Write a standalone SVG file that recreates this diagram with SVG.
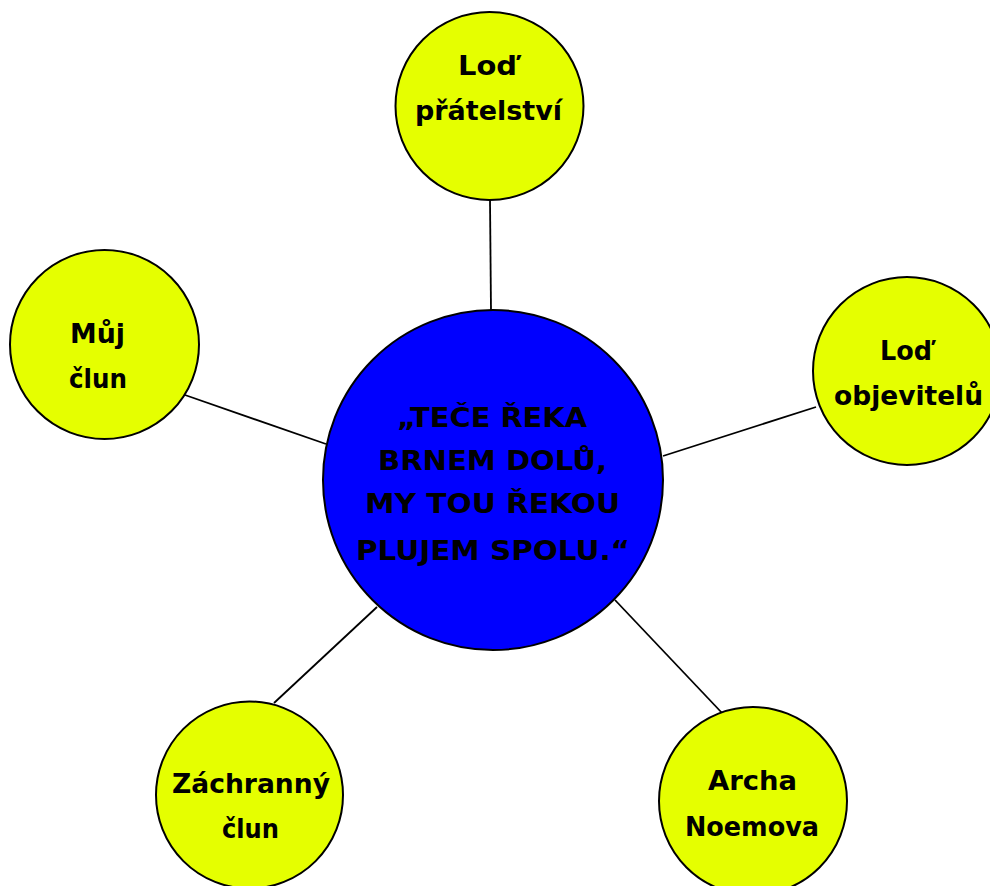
<svg xmlns="http://www.w3.org/2000/svg" width="990" height="886" viewBox="0 0 990 886">
<style>
.node{fill:#E5FF00;stroke:#000;stroke-width:2}
.hub{fill:#0000FF;stroke:#000;stroke-width:2}
.t{font-family:"DejaVu Sans","Liberation Sans",sans-serif;font-weight:bold;font-size:27px;fill:#000;text-anchor:middle}
.c line{stroke:#000;stroke-width:1.8}
</style>
<rect width="990" height="886" fill="#fff"/>
<g id="connectors" class="c">
<line x1="490" y1="200" x2="491" y2="311"/>
<line x1="185" y1="395" x2="326" y2="444"/>
<line x1="663" y1="456" x2="816" y2="407"/>
<line x1="274" y1="703" x2="377" y2="607"/>
<line x1="615" y1="600" x2="723" y2="714"/>
</g>
<g id="hub">
<circle class="hub" cx="493" cy="480" r="170"/>
<text class="t" x="492" y="427" textLength="190" lengthAdjust="spacingAndGlyphs">„TEČE ŘEKA</text>
<text class="t" x="492.5" y="470" textLength="229" lengthAdjust="spacingAndGlyphs">BRNEM DOLŮ,</text>
<text class="t" x="492.5" y="513" textLength="255" lengthAdjust="spacingAndGlyphs">MY TOU ŘEKOU</text>
<text class="t" x="493" y="560" textLength="274" lengthAdjust="spacingAndGlyphs">PLUJEM SPOLU.“</text>
</g>
<g id="n-top">
<circle class="node" cx="489.5" cy="106" r="94"/>
<text class="t" x="487.5" y="75" textLength="59" lengthAdjust="spacingAndGlyphs">Loď</text>
<text class="t" x="488.5" y="120" textLength="147" lengthAdjust="spacingAndGlyphs">přátelství</text>
</g>
<g id="n-left">
<circle class="node" cx="104.5" cy="344.5" r="94.5"/>
<text class="t" x="97.5" y="343" textLength="55" lengthAdjust="spacingAndGlyphs">Můj</text>
<text class="t" x="98" y="388" textLength="58" lengthAdjust="spacingAndGlyphs">člun</text>
</g>
<g id="n-right">
<circle class="node" cx="907" cy="371" r="94"/>
<text class="t" x="906" y="360" textLength="52" lengthAdjust="spacingAndGlyphs">Loď</text>
<text class="t" x="908.5" y="405" textLength="149" lengthAdjust="spacingAndGlyphs">objevitelů</text>
</g>
<g id="n-bottom-left">
<circle class="node" cx="249.5" cy="795" r="93.5"/>
<text class="t" x="251" y="793" textLength="158" lengthAdjust="spacingAndGlyphs">Záchranný</text>
<text class="t" x="250.5" y="838" textLength="57" lengthAdjust="spacingAndGlyphs">člun</text>
</g>
<g id="n-bottom-right">
<circle class="node" cx="753" cy="801" r="94"/>
<text class="t" x="752.5" y="790" textLength="89" lengthAdjust="spacingAndGlyphs">Archa</text>
<text class="t" x="752" y="836" textLength="134" lengthAdjust="spacingAndGlyphs">Noemova</text>
</g>
</svg>
